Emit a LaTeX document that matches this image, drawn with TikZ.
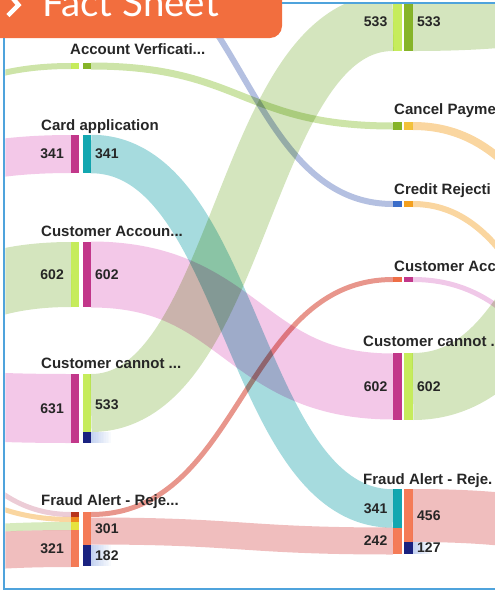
\documentclass[tikz,border=0pt]{standalone}
\usepackage{fontspec}
\setmainfont{Liberation Sans}
\newfontfamily\tabfont{Lato}
\usetikzlibrary{calc}
% colours
\definecolor{tabcol}{RGB}{242,110,62}
\definecolor{framecol}{RGB}{79,163,220}
\definecolor{txt}{RGB}{38,38,38}
\definecolor{cLime}{RGB}{198,236,92}
\definecolor{cDkGreen}{RGB}{134,180,40}
\definecolor{cMag}{RGB}{194,55,138}
\definecolor{cTeal}{RGB}{18,167,176}
\definecolor{cNavy}{RGB}{26,34,128}
\definecolor{cBlue}{RGB}{59,109,201}
\definecolor{cOrange}{RGB}{244,160,30}
\definecolor{cYelOr}{RGB}{242,194,60}
\definecolor{cOrRed}{RGB}{238,110,70}
\definecolor{cSalmon}{RGB}{244,123,87}
\definecolor{cDkRed}{RGB}{184,52,28}
\definecolor{cFAor}{RGB}{240,138,30}
\definecolor{cYellow}{RGB}{230,226,62}
% link colours
\definecolor{bPink}{RGB}{243,200,232}
\definecolor{bTeal}{RGB}{166,219,222}
\definecolor{bGreen}{RGB}{212,229,190}
\definecolor{bLime}{RGB}{205,228,168}
\definecolor{bSalmon}{RGB}{240,190,190}
\definecolor{bRed}{RGB}{232,150,140}
\definecolor{bOrange}{RGB}{250,214,160}
\definecolor{bBlue}{RGB}{180,192,225}
\definecolor{bLilac}{RGB}{236,204,214}
\definecolor{bYG}{RGB}{215,235,190}
\definecolor{bPinkT}{RGB}{240,200,232}
\definecolor{bFade}{RGB}{196,210,240}
\tikzset{
  bar/.style={rectangle, inner sep=0pt, outer sep=0pt, minimum width=8pt, anchor=north west, draw=none},
  rbar/.style={bar, minimum width=9pt},
  lbl/.style={anchor=base west, inner sep=0pt, text=txt, font=\fontsize{15}{17}\selectfont\bfseries},
  num/.style={inner sep=0pt, text=txt, font=\fontsize{14}{16}\selectfont\bfseries}
}
% link as a thick stroked curve: {colour}{width}{source point}{target point}
\newcommand\slink[4]{%
  \draw[#1, line width=#2pt, line cap=butt] let \p1=(#3), \p2=(#4), \n1={(\x1+\x2)/2} in
    (\p1) .. controls (\n1,\y1) and (\n1,\y2) .. (\p2);}
% short fading stub to the right of a bar: {node}{length}
\newcommand\fadestub[2]{%
  \foreach \k in {0,...,11}{%
    \pgfmathtruncatemacro\pc{100-8*\k}%
    \fill[bFade!\pc!white] ([xshift={\k*#2/12}]#1.north east) rectangle ([xshift={(\k+1)*#2/12+0.3}]#1.south east);}}
\begin{document}
\begin{tikzpicture}[x=1pt,y=-1pt]
\useasboundingbox (0,0) rectangle (495,590);
\begin{scope}
\clip (5.3,4) rectangle (495,587.8);
% ---- left column bars
\node[bar, fill=cLime, minimum height=6pt] (AVi) at (71,63) {};
\node[bar, fill=cDkGreen, minimum height=6pt] (AVo) at (83,63) {};
\node[bar, fill=cMag, minimum height=38pt] (CAi) at (71,135) {};
\node[bar, fill=cTeal, minimum height=38pt] (CAo) at (83,135) {};
\node[bar, fill=cLime, minimum height=65pt] (CUi) at (71,242) {};
\node[bar, fill=cMag, minimum height=65pt] (CUo) at (83,242) {};
\node[bar, fill=cMag, minimum height=69pt] (CCi) at (71,374) {};
\node[bar, fill=cLime, minimum height=58pt] (CCo) at (83,374) {};
\node[bar, fill=cNavy, minimum height=11pt] (CCn) at (83,432) {};
\node[bar, fill=cDkRed, minimum height=5pt] (FAi1) at (71,512) {};
\node[bar, fill=cFAor, minimum height=5pt] (FAi2) at (71,517) {};
\node[bar, fill=cYellow, minimum height=8pt] (FAi3) at (71,522) {};
\node[bar, fill=cSalmon, minimum height=37pt] (FAi4) at (71,530) {};
\node[bar, fill=cSalmon, minimum height=33pt] (FAo) at (83,512) {};
\node[bar, fill=cNavy, minimum height=21pt] (FAn) at (83,545) {};
% ---- right column bars
\node[rbar, fill=cLime, minimum height=58pt] (Ti) at (393,-7) {};
\node[rbar, fill=cDkGreen, minimum height=58pt] (To) at (404,-7) {};
\node[rbar, fill=cDkGreen, minimum height=8pt] (CPi) at (393,122) {};
\node[rbar, fill=cYelOr, minimum height=8pt] (CPo) at (404,122) {};
\node[rbar, fill=cBlue, minimum height=6pt] (CRi) at (393,201) {};
\node[rbar, fill=cOrange, minimum height=6pt] (CRo) at (404,201) {};
\node[rbar, fill=cOrRed, minimum height=5pt] (CKi) at (393,277) {};
\node[rbar, fill=cMag, minimum height=5pt] (CKo) at (404,277) {};
\node[rbar, fill=cMag, minimum height=67pt] (RCi) at (393,353) {};
\node[rbar, fill=cLime, minimum height=67pt] (RCo) at (404,353) {};
\node[rbar, fill=cTeal, minimum height=39pt] (FRi1) at (393,489) {};
\node[rbar, fill=cSalmon, minimum height=26pt] (FRi2) at (393,528) {};
\node[rbar, fill=cSalmon, minimum height=53pt] (FRo1) at (404,489) {};
\node[rbar, fill=cNavy, minimum height=12pt] (FRo2) at (404,542) {};
% ---- off-page ends and split points
\coordinate (oAV) at (-231,150);
\coordinate (oCA) at (-231,199);
\coordinate (oCU) at (-231,359);
\coordinate (oCC) at (-231,396);
\coordinate (oF1) at (-231,268);
\coordinate (oF2) at (-231,396);
\coordinate (oF3) at (-231,545);
\coordinate (oF4) at (-231,568);
\coordinate (oBL) at (91,-54);
\coordinate (oT)  at (715,0);
\coordinate (oCP) at (715,351);
\coordinate (oCR) at (715,522);
\coordinate (oCK) at (715,477);
\coordinate (oRC) at (715,111);
\coordinate (oFR) at (715,540);
\coordinate (FAs1) at ($(FAo.north east)+(0,2.5)$);
\coordinate (FAs2) at ($(FAo.north east)+(0,19)$);
% ---- links
\begin{scope}[blend mode=multiply]
\slink{bLime}{6}{oAV}{AVi.west}
\slink{bLime}{7}{AVo.east}{CPi.west}
\slink{bPink}{38}{oCA}{CAi.west}
\slink{bTeal}{38.5}{CAo.east}{FRi1.west}
\slink{bGreen}{65}{oCU}{CUi.west}
\slink{bPink}{66}{CUo.east}{RCi.west}
\slink{bPink}{69}{oCC}{CCi.west}
\slink{bGreen}{58}{CCo.east}{Ti.west}
\slink{bLilac}{5}{oF1}{FAi1.west}
\slink{bOrange}{5}{oF2}{FAi2.west}
\slink{bYG}{8}{oF3}{FAi3.west}
\slink{bSalmon}{37}{oF4}{FAi4.west}
\slink{bRed}{5}{FAs1}{CKi.west}
\slink{bSalmon}{27}{FAs2}{FRi2.west}
\slink{bBlue}{6}{oBL}{CRi.west}
\slink{bGreen}{58}{To.east}{oT}
\slink{bOrange}{8}{CPo.east}{oCP}
\slink{bOrange}{6}{CRo.east}{oCR}
\slink{bPinkT}{5}{CKo.east}{oCK}
\slink{bGreen}{67}{RCo.east}{oRC}
\slink{bSalmon}{53}{FRo1.east}{oFR}
\end{scope}
% ---- fading stubs of the navy segments
\fadestub{CCn}{20}
\fadestub{FAn}{20}
\fadestub{FRo2}{18}
% ---- numbers
\node[num, anchor=east] (nCAi) at ([xshift=-7pt]CAi.west) {341};
\node[num, anchor=west] (nCAo) at ([xshift=4pt]CAo.east) {341};
\node[num, anchor=east] (nCUi) at ([xshift=-7pt]CUi.west) {602};
\node[num, anchor=west] (nCUo) at ([xshift=4pt]CUo.east) {602};
\node[num, anchor=east] (nCCi) at ([xshift=-7pt]CCi.west) {631};
\node[num, anchor=west] (nCCo) at ([xshift=4pt,yshift=-2pt]CCo.east) {533};
\node[num, anchor=east] (nFAi) at ([xshift=-7pt]FAi4.west) {321};
\node[num, anchor=west] (nFAo) at ([xshift=4pt]FAo.east) {301};
\node[num, anchor=west] (nFAn) at ([xshift=4pt]FAn.east) {182};
\node[num, anchor=east] (nTi) at ([xshift=-5.5pt]Ti.west) {533};
\node[num, anchor=west] (nTo) at ([xshift=4pt]To.east) {533};
\node[num, anchor=east] (nRCi) at ([xshift=-5.5pt]RCi.west) {602};
\node[num, anchor=west] (nRCo) at ([xshift=4pt]RCo.east) {602};
\node[num, anchor=east] (nFRi1) at ([xshift=-5.5pt]FRi1.west) {341};
\node[num, anchor=east] (nFRi2) at ([xshift=-5.5pt]FRi2.west) {242};
\node[num, anchor=west] (nFRo1) at ([xshift=4pt]FRo1.east) {456};
\node[num, anchor=west] (nFRo2) at ([xshift=4pt]FRo2.east) {127};
% ---- labels
\node[lbl] (lAV) at (70,54) {Account Verficati...};
\node[lbl] (lCA) at (41,130) {Card application};
\node[lbl] (lCU) at (41,236) {Customer Accoun...};
\node[lbl] (lCC) at (41,368) {Customer cannot ...};
\node[lbl] (lFA) at (41,505) {Fraud Alert - Reje...};
\node[lbl] (lCP) at (394,114) {Cancel Payme};
\node[lbl] (lCR) at (394,194) {Credit Rejecti};
\node[lbl] (lCK) at (394,271) {Customer Acc};
\node[lbl] (lRC) at (363,346) {Customer cannot .};
\node[lbl] (lFR) at (363,484) {Fraud Alert - Reje.};
\end{scope}
% ---- header tab
\fill[tabcol, rounded corners=12pt] (-20,-20) rectangle (282,38);
\draw[white, line width=4.5pt, miter limit=10] (10,-5) -- (18.5,5) -- (8,15.5);
\node[anchor=base west, inner sep=0pt, text=white, font=\tabfont\fontsize{38.5}{40}\selectfont] (title) at (42,16) {Fact Sheet};
% ---- frame
\draw[framecol, line width=2pt] (282,3) -- (495,3);
\draw[framecol, line width=2pt] (4.3,38) -- (4.3,588.8) -- (495,588.8);
\end{tikzpicture}
\end{document}
